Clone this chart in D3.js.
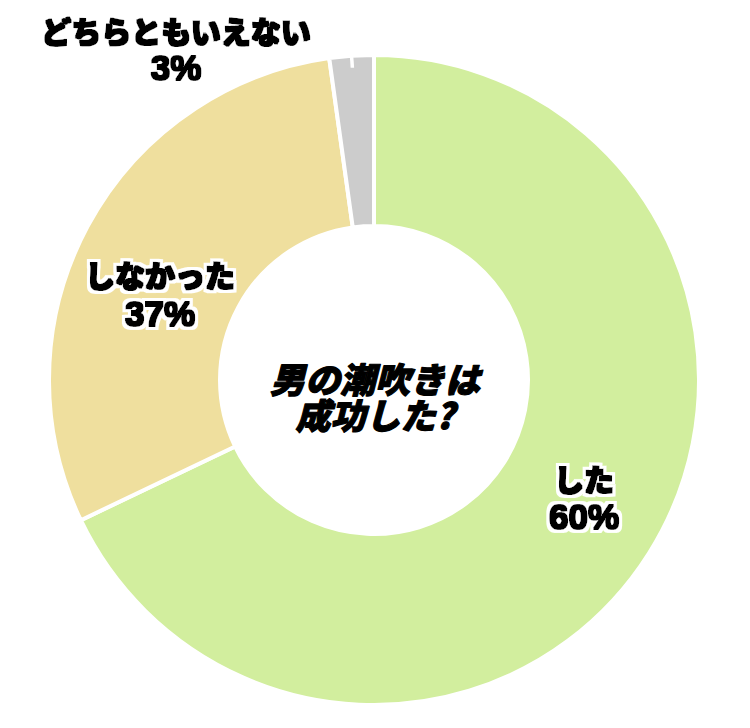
<!DOCTYPE html>
<html><head><meta charset="utf-8">
<script src="https://cdn.jsdelivr.net/npm/d3@7"></script>
<style>
html,body{margin:0;padding:0;background:#fff;}
text{font-family:"Noto Sans CJK JP","Noto Sans",sans-serif;font-weight:900;}
tspan.num{font-family:"Liberation Sans Narrow","Liberation Sans","DejaVu Sans Condensed",sans-serif;font-weight:700;}
</style></head>
<body>
<svg id="c" width="750" height="728"></svg>
<script>
const categories = ["した", "しなかった", "どちらともいえない"];
const shares = [67.9, 29.9, 2.2];          // arc sizes as drawn
const pctLabels = ["60%", "37%", "3%"];     // label texts as printed
const colors = ["#d2ee9e", "#efdf9e", "#cccccc"];
const titleLines = ["男の潮吹きは", "成功した?"];

const svg = d3.select("#c");
const defs = svg.append("defs");
const f = defs.append("filter").attr("id", "halo")
  .attr("x", "-20%").attr("y", "-30%").attr("width", "140%").attr("height", "160%");
f.append("feMorphology").attr("in", "SourceAlpha").attr("operator", "dilate").attr("radius", 4.2).attr("result", "wa");
f.append("feFlood").attr("flood-color", "#fff").attr("result", "wf");
f.append("feComposite").attr("in", "wf").attr("in2", "wa").attr("operator", "in").attr("result", "white");
f.append("feMorphology").attr("in", "SourceGraphic").attr("operator", "dilate").attr("radius", 0.6).attr("result", "blk");
const fm = f.append("feMerge");
fm.append("feMergeNode").attr("in", "white");
fm.append("feMergeNode").attr("in", "blk");

const cx = 374, cy = 380, R = 325, r0 = 154;
const g = svg.append("g").attr("transform", `translate(${cx},${cy})`);

const pie = d3.pie().sort(null).value(d => d)(shares);
const arc = d3.arc().innerRadius(r0).outerRadius(R);

g.selectAll("path.slice").data(pie).join("path")
  .attr("class", "slice")
  .attr("d", arc)
  .attr("fill", (d, i) => colors[i])
  .attr("stroke", "#fff")
  .attr("stroke-width", 4)
  .attr("stroke-linejoin", "miter");

// leader tick for small slice
const small = pie[2];
const ma = (small.startAngle + small.endAngle) / 2;
g.append("line")
  .attr("x1", Math.sin(ma) * (R + 2)).attr("y1", -Math.cos(ma) * (R + 2))
  .attr("x2", Math.sin(ma) * (R - 12)).attr("y2", -Math.cos(ma) * (R - 12))
  .attr("stroke", "#fff").attr("stroke-width", 3.5);

// labels (absolute anchor positions: x, first-line y, second-line y)
const labelPos = [[584, 478, 516], [160, 274, 313], [176, 30, 67]];
categories.forEach((c, i) => {
  const [x, y1, y2] = labelPos[i];
  const t = svg.append("text")
    .attr("text-anchor", "middle")
    .attr("dominant-baseline", "central")
    .attr("fill", "#000")
    .attr("filter", "url(#halo)");
  t.append("tspan").attr("x", x).attr("y", y1).attr("font-size", 30).text(c);
  t.append("tspan").attr("class", "num").attr("x", x).attr("y", y2).attr("font-size", 35).text(pctLabels[i]);
});

// center title
const tt = svg.append("text")
  .attr("text-anchor", "middle")
  .attr("dominant-baseline", "central")
  .attr("font-size", 35)
  .attr("font-style", "italic")
  .attr("fill", "#000")
  .attr("stroke", "#000").attr("stroke-width", 1.2)
  .attr("stroke-linejoin", "round");
titleLines.forEach((line, i) => {
  tt.append("tspan").attr("x", cx + 1).attr("y", 377 + i * 36).text(line);
});
</script>
</body></html>
